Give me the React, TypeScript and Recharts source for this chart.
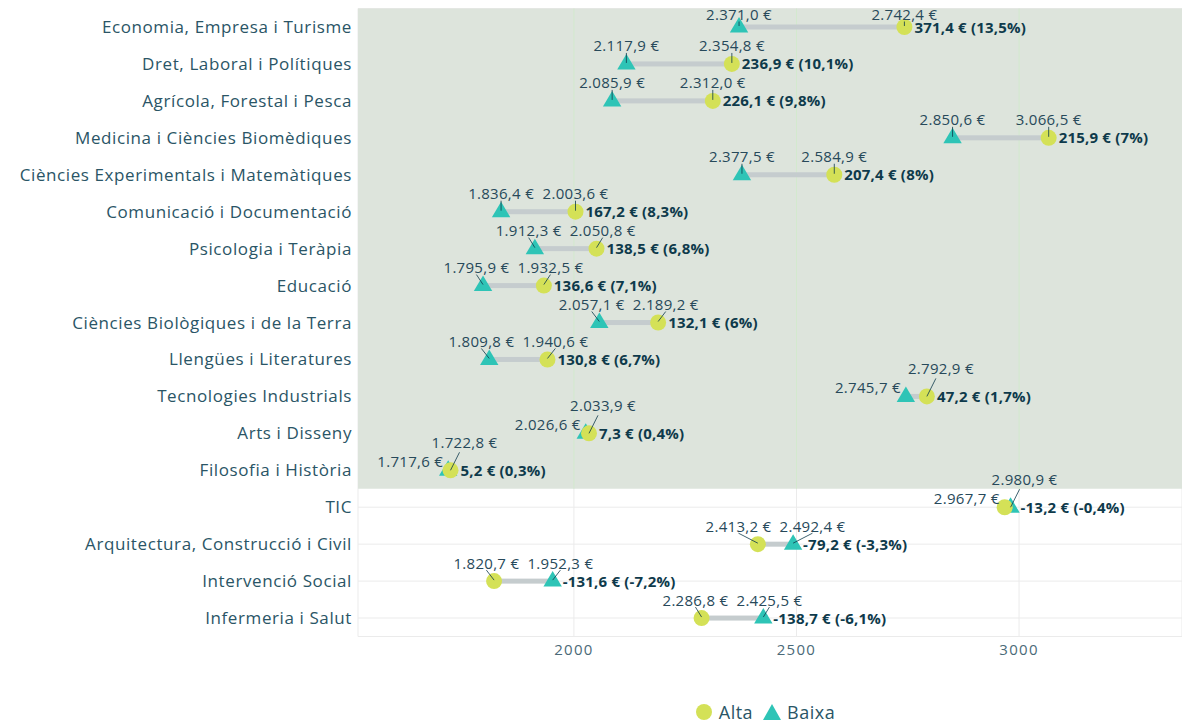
import React from 'react';
import {
  Bar,
  CartesianGrid,
  ComposedChart,
  Legend,
  ReferenceArea,
  XAxis,
  YAxis,
} from 'recharts';

const categories = [
  'Economia, Empresa i Turisme',
  'Dret, Laboral i Polítiques',
  'Agrícola, Forestal i Pesca',
  'Medicina i Ciències Biomèdiques',
  'Ciències Experimentals i Matemàtiques',
  'Comunicació i Documentació',
  'Psicologia i Teràpia',
  'Educació',
  'Ciències Biològiques i de la Terra',
  'Llengües i Literatures',
  'Tecnologies Industrials',
  'Arts i Disseny',
  'Filosofia i Història',
  'TIC',
  'Arquitectura, Construcció i Civil',
  'Intervenció Social',
  'Infermeria i Salut',
];

const alta = [
  2742.4, 2354.8, 2312.0, 3066.5, 2584.9, 2003.6, 2050.8, 1932.5, 2189.2,
  1940.6, 2792.9, 2033.9, 1722.8, 2967.7, 2413.2, 1820.7, 2286.8,
];

const baixa = [
  2371.0, 2117.9, 2085.9, 2850.6, 2377.5, 1836.4, 1912.3, 1795.9, 2057.1,
  1809.8, 2745.7, 2026.6, 1717.6, 2980.9, 2492.4, 1952.3, 2425.5,
];

const xTicks = [2000, 2500, 3000];
const xDomain: [number, number] = [1515, 3366];

const FONT = "'Open Sans', sans-serif";
const COLOR_ALTA = '#d4e157';
const COLOR_BAIXA = '#2ec4b6';
const COLOR_LINK = '#c5ccce';
const COLOR_SHADE = '#dde4dc';
const GRID_GREEN = '#d2e9cd';
const GRID_GREY = '#ebebeb';
const TEXT_LABEL = '#27495a';
const TEXT_DIFF = '#0e3a4b';
const TEXT_AXIS = '#2a5566';

const LABEL_W = 66;
const LABEL_GAP = 8;
const MIN_BASELINE = 20;

function fmtNum(v: number, dec: number): string {
  const s = Math.abs(v).toFixed(dec);
  const [int, frac] = s.split('.');
  const grouped = int.replace(/\B(?=(\d{3})+(?!\d))/g, '.');
  return (v < 0 ? '-' : '') + grouped + (frac ? ',' + frac : '');
}

function fmtPct(v: number): string {
  const r = Math.round(v * 10) / 10;
  return fmtNum(r, Number.isInteger(r) ? 0 : 1) + '%';
}

const data = categories.map((name, i) => ({
  name,
  alta: alta[i],
  baixa: baixa[i],
  range: [Math.min(alta[i], baixa[i]), Math.max(alta[i], baixa[i])],
}));

// rows where alta > baixa get the green band
const shadedCount = data.filter((d) => d.alta - d.baixa > 0).length;
const lastShaded = categories[shadedCount - 1];

function RowGrid(props: any) {
  const { x, y, width, height, payload } = props;
  if (!payload || !(payload.alta > payload.baixa)) return <g />;
  const cy = y + height / 2;
  return <line x1={x} x2={x + width} y1={cy} y2={cy} stroke={GRID_GREEN} strokeWidth={1} />;
}

function Dumbbell(props: any) {
  const { x, y, width, height, payload } = props;
  if (payload == null || x == null) return null;
  const cy = y + height / 2;
  const lo = x;
  const hi = x + width;
  const altaRight = payload.alta >= payload.baixa;
  const xa = altaRight ? hi : lo;
  const xb = altaRight ? lo : hi;
  const loVal = Math.min(payload.alta, payload.baixa);
  const hiVal = Math.max(payload.alta, payload.baixa);
  const diff = Math.round((payload.alta - payload.baixa) * 10) / 10;
  const pct = (diff / payload.alta) * 100;
  const d = hi - lo;

  const labelStyle = { fontFamily: FONT, fontSize: 15, letterSpacing: 0.3, fill: TEXT_LABEL };
  let labels: React.ReactNode;
  if (d < 30) {
    labels = (
      <g>
        <line x1={hi} y1={cy} x2={hi + 9} y2={cy - 18} stroke={TEXT_DIFF} strokeWidth={0.8} />
        <text x={lo - 5} y={cy - 3} textAnchor="end" {...labelStyle}>
          {fmtNum(loVal, 1)} €
        </text>
        <text x={hi + 14} y={cy - 22} textAnchor="middle" {...labelStyle}>
          {fmtNum(hiVal, 1)} €
        </text>
      </g>
    );
  } else {
    const shift = Math.max(0, (LABEL_W + LABEL_GAP - d) / 2);
    const lc = lo - shift;
    const rc = hi + shift;
    const base = Math.max(cy - 12.5, MIN_BASELINE);
    labels = (
      <g>
        <line x1={lc} y1={base + 1.5} x2={lo} y2={cy - 1} stroke={TEXT_DIFF} strokeWidth={0.8} />
        <line x1={rc} y1={base + 1.5} x2={hi} y2={cy - 1} stroke={TEXT_DIFF} strokeWidth={0.8} />
        <text x={lc} y={base} textAnchor="middle" {...labelStyle}>
          {fmtNum(loVal, 1)} €
        </text>
        <text x={rc} y={base} textAnchor="middle" {...labelStyle}>
          {fmtNum(hiVal, 1)} €
        </text>
      </g>
    );
  }

  return (
    <g>
      <rect x={lo} y={cy - 2.5} width={Math.max(d, 0)} height={5} fill={COLOR_LINK} />
      <polygon
        points={`${xb},${cy - 10} ${xb - 9.2},${cy + 5.5} ${xb + 9.2},${cy + 5.5}`}
        fill={COLOR_BAIXA}
      />
      <circle cx={xa} cy={cy} r={8} fill={COLOR_ALTA} />
      {labels}
      <text
        x={hi + 10}
        y={cy + 5.5}
        fontFamily={FONT}
        fontSize={15}
        letterSpacing={0.2}
        fontWeight={700}
        fill={TEXT_DIFF}
      >
        {fmtNum(diff, 1)} € ({fmtPct(pct)})
      </text>
    </g>
  );
}

const legendItems = [
  { name: 'Alta', color: COLOR_ALTA, shape: 'circle' },
  { name: 'Baixa', color: COLOR_BAIXA, shape: 'triangle' },
];

function LegendContent() {
  return (
    <div
      style={{
        height: 24,
        display: 'flex',
        justifyContent: 'center',
        alignItems: 'center',
        paddingLeft: 358,
        fontFamily: FONT,
        fontSize: 18,
        letterSpacing: 0.5,
        color: TEXT_AXIS,
      }}
    >
      {legendItems.map((it) => (
        <span key={it.name} style={{ display: 'flex', alignItems: 'center', marginRight: 10 }}>
          <svg width={18} height={18} style={{ marginRight: 6 }}>
            {it.shape === 'circle' ? (
              <circle cx={9} cy={9} r={8} fill={it.color} />
            ) : (
              <polygon points="9,1 0,17 18,17" fill={it.color} />
            )}
          </svg>
          {it.name}
        </span>
      ))}
    </div>
  );
}

export default function App() {
  return (
    <div style={{ position: 'absolute', left: 0, top: 0, width: 1182, height: 724, background: '#fff' }}>
      <ComposedChart
        layout="vertical"
        width={1182}
        height={724}
        data={data}
        margin={{ top: 8.5, right: 0, bottom: 0, left: 0 }}
      >
        <CartesianGrid stroke={GRID_GREY} />
        <XAxis
          type="number"
          domain={xDomain}
          ticks={xTicks}
          allowDataOverflow
          axisLine={false}
          tickLine={false}
          tickSize={0}
          tickMargin={8}
          height={63.5}
          tick={{ fill: '#4b6a78', fontSize: 15, letterSpacing: 1.3, fontFamily: FONT }}
        />
        <YAxis
          type="category"
          dataKey="name"
          width={358}
          axisLine={false}
          tickLine={false}
          tickSize={0}
          tickMargin={6}
          interval={0}
          tick={{ fill: TEXT_AXIS, fontSize: 17, letterSpacing: 0.6, fontFamily: FONT }}
        />
        <ReferenceArea y1={categories[0]} y2={lastShaded} fill={COLOR_SHADE} fillOpacity={1} stroke="none" />
        {xTicks.map((t) => (
          <ReferenceArea
            key={t}
            x1={t - 1.1}
            x2={t + 1.1}
            y1={categories[0]}
            y2={lastShaded}
            fill={GRID_GREEN}
            fillOpacity={1}
            stroke="none"
          />
        ))}
        <Bar
          dataKey="range"
          barSize={5}
          legendType="none"
          isAnimationActive={false}
          background={(p: any) => <RowGrid {...p} />}
          shape={(p: any) => <Dumbbell {...p} />}
        />
        <Legend verticalAlign="bottom" wrapperStyle={{ left: 0, width: 1182 }} content={() => <LegendContent />} />
      </ComposedChart>
    </div>
  );
}
